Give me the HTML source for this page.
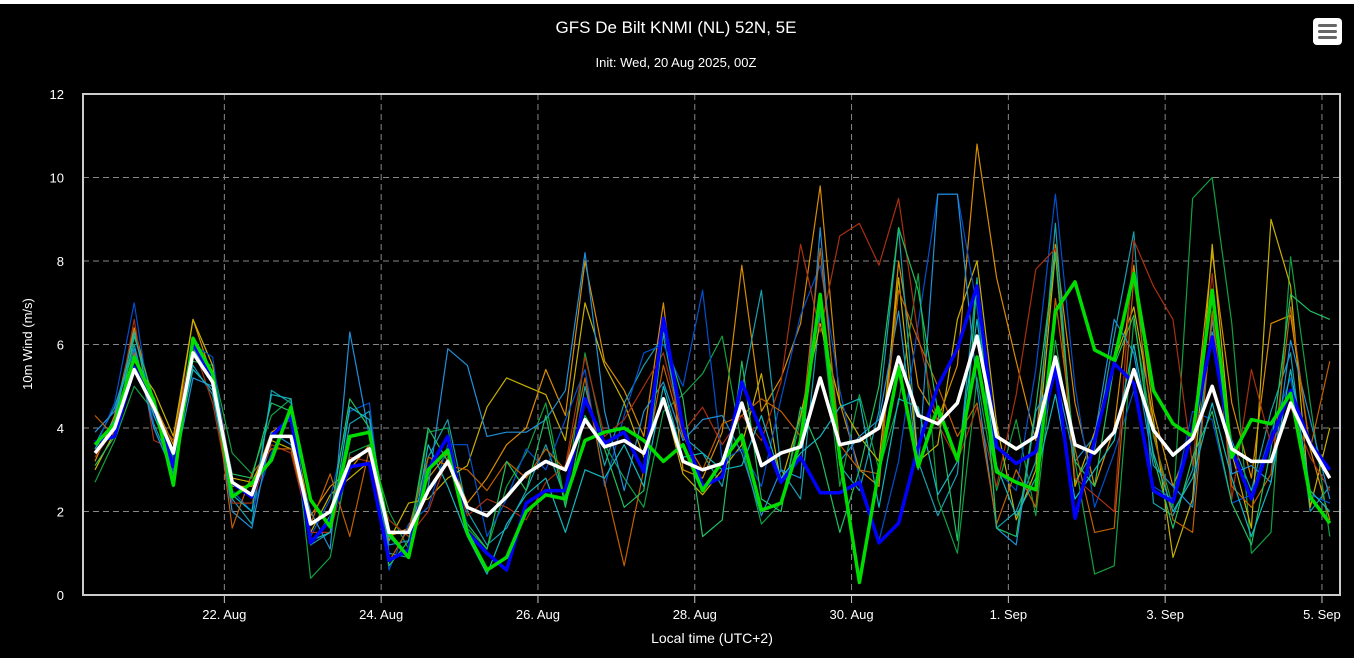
<!DOCTYPE html>
<html><head><meta charset="utf-8"><style>
html,body{margin:0;padding:0;background:#fff;}
#wrap{position:absolute;left:0;top:4px;width:1354px;height:654px;background:#000;}
svg{position:absolute;left:0;top:0;}
text{font-family:"Liberation Sans","DejaVu Sans",sans-serif;fill:#fff;}
</style></head><body>
<div id="wrap"></div>
<svg id="chart" width="1362" height="658">
<text x="676" y="33" font-size="17" text-anchor="middle">GFS De Bilt KNMI (NL) 52N, 5E</text>
<text x="676" y="67" font-size="13" text-anchor="middle">Init: Wed, 20 Aug 2025, 00Z</text>
<g>
<rect x="1313" y="18" width="29" height="27" rx="4" fill="#fff"/>
<rect x="1318" y="24" width="19" height="3" rx="1.5" fill="#666"/>
<rect x="1318" y="30" width="19" height="3" rx="1.5" fill="#666"/>
<rect x="1318" y="36" width="19" height="3" rx="1.5" fill="#666"/>
</g>
<g id="grid"></g>
<g id="series"></g>
<rect x="83" y="94" width="1257" height="501" fill="none" stroke="#ccc" stroke-width="2"/>
<g id="axes"></g>
<text x="712" y="643" font-size="14" text-anchor="middle">Local time (UTC+2)</text>
<text x="0" y="0" font-size="13" text-anchor="middle" transform="translate(32,344) rotate(-90)">10m Wind (m/s)</text>
</svg>
<script>
const yTicks=[0,2,4,6,8,10,12];
const xTickLabels=["22. Aug","24. Aug","26. Aug","28. Aug","30. Aug","1. Sep","3. Sep","5. Sep"];
const xTickSteps=[6.6,14.6,22.6,30.6,38.6,46.6,54.6,62.6];
const meanSeries=[3.4,4.0,5.4,4.5,3.4,5.8,5.1,2.7,2.4,3.8,3.8,1.7,2.0,3.2,3.5,1.5,1.5,2.5,3.2,2.1,1.9,2.35,2.9,3.2,3.0,4.2,3.55,3.7,3.4,4.7,3.2,3.0,3.15,4.6,3.1,3.4,3.55,5.2,3.6,3.7,4.0,5.7,4.3,4.1,4.6,6.2,3.8,3.5,3.8,5.7,3.6,3.4,3.9,5.4,3.95,3.35,3.75,5.0,3.5,3.2,3.2,4.6,3.6,2.8];
const greenSeries=[3.6,4.1,5.7,4.67,2.63,6.15,5.3,2.35,2.68,3.23,4.5,2.28,1.63,3.8,3.9,1.48,0.9,3.0,3.47,1.48,0.6,0.9,2.0,2.4,2.3,3.7,3.9,4.0,3.7,3.2,3.6,2.5,3.2,3.83,2.03,2.2,3.7,7.2,3.3,0.3,3.0,5.46,3.07,4.5,3.23,5.7,2.95,2.7,2.52,6.8,7.5,5.87,5.63,7.7,4.9,4.1,3.8,7.3,3.3,4.2,4.1,4.83,2.35,1.72];
const blueSeries=[3.66,3.8,5.46,4.5,3.07,6.03,5.2,2.68,2.35,3.8,4.27,1.25,1.8,3.07,3.15,0.83,1.08,3.0,3.8,1.5,1.0,0.6,2.2,2.5,2.5,4.7,3.63,3.9,2.95,6.63,4.0,2.6,2.83,5.1,3.9,2.7,3.3,2.45,2.45,2.7,1.25,1.72,3.55,5.0,5.9,7.4,3.55,3.15,3.43,5.46,1.84,3.7,5.55,5.07,2.5,2.23,3.95,6.18,3.47,2.3,3.7,4.9,3.63,3.0];
const m1=[3.2,4.3,6.4,4.6,3.6,6.6,5.2,2.6,2.6,3.9,4.2,1.9,2.6,3.0,3.6,1.4,1.6,2.8,3.4,2.2,2.8,3.6,4.0,5.4,4.3,8.0,5.6,4.9,3.8,7.0,3.0,2.8,3.9,7.9,4.4,5.2,6.5,9.8,4.6,3.0,2.6,8.0,5.0,4.2,5.5,10.8,7.6,5.6,3.7,8.4,4.6,2.6,4.0,7.9,4.4,2.6,3.8,8.2,4.6,2.8,6.5,6.7,3.5,1.8];
const m2=[3.6,4.5,6.0,4.1,3.0,5.5,4.8,2.3,1.7,4.9,4.6,1.2,1.5,4.1,4.4,1.0,0.9,3.3,4.2,2.0,1.2,1.6,2.5,3.6,2.3,5.0,3.1,4.6,5.5,6.2,3.8,3.4,2.6,4.9,7.3,3.0,2.3,6.8,3.1,2.5,4.4,8.8,3.2,1.9,2.9,7.6,1.6,2.0,3.2,8.9,2.7,3.5,6.2,8.7,2.2,1.9,3.0,6.3,3.7,2.5,4.4,5.8,2.0,2.6];
const m3=[2.7,3.7,5.0,4.4,3.3,5.6,5.5,3.4,2.9,4.3,4.7,0.4,0.9,3.4,3.6,2.0,1.1,3.9,4.0,1.6,1.1,2.6,3.4,4.6,2.2,5.8,3.6,2.8,2.1,4.4,4.8,5.3,6.2,3.6,1.7,2.2,4.2,6.9,2.6,4.8,3.0,4.6,7.7,2.3,1.0,5.2,2.5,4.2,1.9,6.1,3.2,0.5,0.7,6.6,3.8,2.1,9.5,10.0,6.5,1.0,1.5,8.1,4.6,1.4];
const m4=[3.0,3.9,5.6,4.9,3.8,6.6,5.5,2.8,2.7,3.7,3.5,1.5,2.4,2.8,3.2,1.3,2.2,2.3,2.8,3.1,4.5,5.2,5.0,4.8,3.7,7.0,5.5,4.6,3.3,4.7,2.9,2.4,3.0,3.6,5.3,2.7,4.3,6.5,4.6,3.8,3.2,7.6,3.2,3.6,6.6,8.0,4.1,1.8,3.0,8.2,2.6,3.9,5.6,6.9,4.2,0.9,2.3,8.4,3.4,1.6,9.0,7.4,2.1,4.0];
const m5=[3.5,4.6,7.0,4.0,2.9,6.0,5.7,2.5,2.0,3.4,4.4,1.4,2.3,4.4,4.6,0.6,1.7,2.1,3.6,3.6,1.4,2.3,3.5,3.0,4.2,5.4,2.6,4.3,5.8,6.0,5.0,7.3,3.2,3.5,2.6,4.7,6.7,7.9,4.9,2.8,1.3,3.2,6.5,9.6,9.6,6.9,3.0,2.5,5.4,9.6,5.0,2.1,3.4,4.9,2.6,2.3,4.4,4.2,2.2,2.4,3.9,5.2,2.4,2.2];
const m6=[3.3,4.0,6.6,3.7,3.5,6.0,4.6,2.2,2.2,3.6,3.4,1.5,1.5,3.3,3.2,1.8,1.4,2.0,3.3,1.9,2.3,2.1,1.8,2.7,3.1,5.7,3.8,4.2,5.0,5.8,3.9,4.5,3.6,4.3,3.7,5.1,8.4,6.3,8.6,8.9,7.9,9.5,6.2,4.1,3.2,4.5,2.6,4.8,7.8,8.3,2.8,2.4,2.0,8.5,7.4,6.6,3.1,7.7,2.3,5.4,3.6,4.5,3.3,2.5];
const m7=[3.9,4.4,5.9,4.0,2.9,5.2,5.0,2.0,1.6,3.9,3.6,2.0,1.1,6.3,3.8,1.2,1.3,2.6,5.9,5.5,3.8,3.9,3.9,4.2,4.9,8.2,4.4,2.5,4.4,5.1,3.7,4.2,4.3,3.4,1.9,3.0,2.8,8.8,3.2,3.8,4.2,6.8,3.0,9.6,9.6,5.0,1.6,1.2,4.4,5.3,3.2,3.8,6.6,5.8,3.1,2.6,2.1,6.6,2.9,3.1,2.7,6.1,4.2,2.3];
const m8=[4.3,3.8,5.8,4.3,3.7,6.1,5.3,1.6,2.9,3.5,3.5,1.7,2.9,1.4,3.5,0.8,1.6,3.3,3.1,3.0,2.5,3.2,2.8,3.5,3.0,5.2,2.7,0.7,3.0,5.5,3.8,3.0,4.1,4.3,4.7,4.4,3.8,8.3,3.6,3.0,2.9,7.3,6.1,5.0,3.8,4.6,1.7,3.0,2.1,7.1,3.5,1.5,1.6,7.6,3.9,1.8,1.5,6.8,2.6,2.1,2.9,6.9,3.5,5.6];
const m9=[3.1,3.8,6.2,4.7,3.1,5.9,5.2,2.9,2.8,4.6,4.4,1.2,1.9,4.7,4.0,0.7,1.3,4.0,3.2,1.7,1.1,3.2,2.5,4.3,2.1,4.3,3.5,2.1,2.5,6.3,4.7,1.4,1.8,5.6,2.3,2.0,4.5,3.4,1.5,3.0,5.0,8.8,7.3,4.4,1.3,7.5,1.6,1.4,4.5,8.2,3.2,2.6,5.5,6.7,3.3,1.6,3.3,4.4,2.2,1.2,3.5,7.2,6.8,6.6];
const m10=[3.5,4.2,6.3,4.3,3.2,5.4,4.9,2.4,2.0,4.8,4.7,1.3,1.5,4.5,4.2,1.4,0.9,3.6,2.6,1.4,0.5,1.7,2.4,2.8,1.5,3.0,2.8,3.6,2.6,5.0,3.3,3.4,3.0,3.1,4.3,2.8,3.4,3.8,4.5,4.7,2.1,4.7,4.5,2.4,3.2,6.6,3.1,1.9,2.8,4.8,2.3,3.0,3.7,6.0,3.4,2.0,2.8,4.6,2.8,1.4,2.7,5.4,2.5,2.0];
const members=[m1,m2,m3,m4,m5,m6,m7,m8,m9,m10];
const memberColors=["#d98c00","#16a0b0","#10a040","#c8b000","#0050d0","#a83010","#2090d8","#c06000","#20c060","#10b8c0"];

const NS="http://www.w3.org/2000/svg";
const X0=95, STEP=19.6, Y0=595, YPX=41.75;
function xScale(i){return X0+STEP*i;}
function yScale(v){return Y0-v*YPX;}
function mk(tag,attrs,parent){const e=document.createElementNS(NS,tag);for(const k in attrs)e.setAttribute(k,attrs[k]);parent.appendChild(e);return e;}
const grid=document.getElementById('grid'), axes=document.getElementById('axes'), ser=document.getElementById('series');
yTicks.forEach(t=>{
  const y=yScale(t);
  if(t>0&&t<12){const l=mk('line',{x1:83,x2:1340,y1:y,y2:y,stroke:'#888','stroke-dasharray':'6,4','stroke-width':1},grid);
  
  }
  const tx=mk('text',{x:64,y:y+5,'font-size':13,'text-anchor':'end'},axes);tx.textContent=t;
  
  
});
xTickSteps.forEach((s,k)=>{
  const x=xScale(s);
  const l=mk('line',{x1:x,x2:x,y1:94,y2:595,stroke:'#888','stroke-dasharray':'6,4','stroke-width':1},grid);
  
  
  const tk=mk('line',{x1:x,x2:x,y1:595,y2:603,stroke:'#ccc','stroke-width':1},axes);
  
  
  const tx=mk('text',{x:x,y:619,'font-size':13,'text-anchor':'middle'},axes);tx.textContent=xTickLabels[k];
  
  
});
function line(arr,color,w,name){
  const p=arr.map((v,i)=>xScale(i).toFixed(1)+','+yScale(v).toFixed(1)).join(' ');
  const e=mk('polyline',{points:p,fill:'none',stroke:color,'stroke-width':w,'stroke-linejoin':'round'},ser);
  
  
}
members.forEach((m,k)=>line(m,memberColors[k],1.2,'ensemble-member-line'));
line(blueSeries,'#0000ff',3.5,'control-run-line');
line(greenSeries,'#00dd00',3.5,'operational-run-line');
line(meanSeries,'#ffffff',3.5,'ensemble-mean-line');
</script>
</body></html>
